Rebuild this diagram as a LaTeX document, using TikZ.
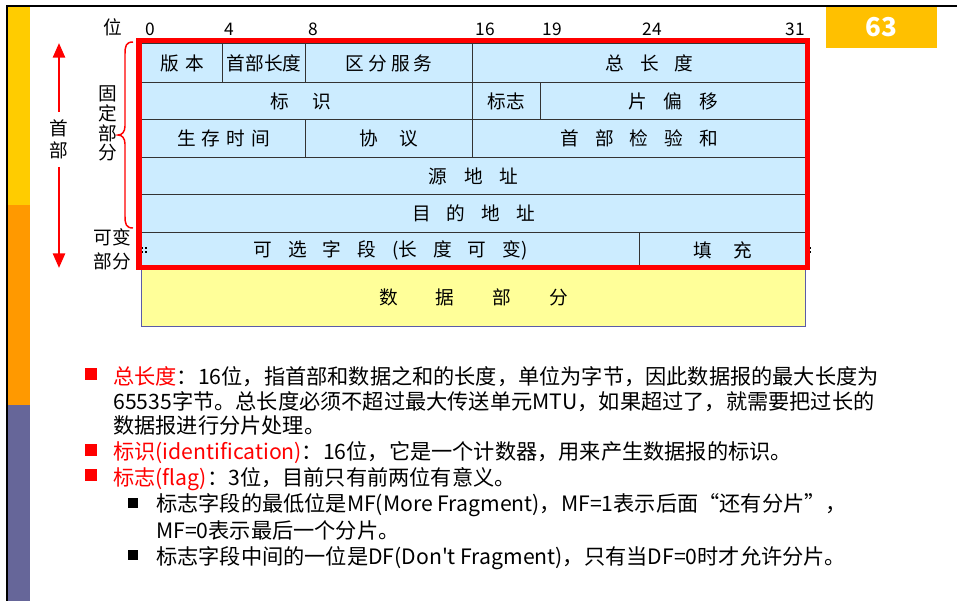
\documentclass[tikz,border=0pt]{standalone}
\usepackage{fontspec}
\setmainfont{Noto Sans CJK SC}
\newfontfamily\aposfont{Noto Sans CJK SC}
\usetikzlibrary{arrows.meta}
\definecolor{cellblue}{HTML}{CCECFF}
\definecolor{cellline}{HTML}{333333}
\definecolor{datayellow}{HTML}{FFFF99}
\definecolor{dataline}{HTML}{5B5BA8}
\definecolor{barY}{HTML}{FFCC00}
\definecolor{barO}{HTML}{FF9900}
\definecolor{barP}{HTML}{666699}
\definecolor{pagebox}{HTML}{FFC000}
\definecolor{pured}{HTML}{FF0000}
\newlength\pxu
\setlength\pxu{0.75pt}
\newcommand\Gap[1]{\hspace{#1\pxu}}
\newcommand\cellfont{\fontsize{14pt}{16pt}\selectfont}
\newcommand\bodyfont{\fontsize{15.9pt}{19pt}\selectfont}
\newcommand\sidefont{\fontsize{14pt}{16pt}\selectfont}
\newcommand\numfont{\fontsize{13pt}{15pt}\selectfont}
\tikzset{
  cell/.style={draw=cellline, fill=cellblue, line width=0.9pt, inner sep=0pt, anchor=north west, font=\cellfont},
  datacell/.style={draw=dataline, fill=datayellow, line width=0.8pt, inner sep=0pt, anchor=north west, font=\cellfont},
  bitlbl/.style={inner sep=0pt, font=\numfont},
  side/.style={inner sep=0pt, font=\sidefont},
  line/.style={inner sep=0pt, anchor=base west, font=\bodyfont},
  redsq/.style={fill=pured, inner sep=0pt, minimum size=12*0.75pt},
  blacksq/.style={fill=black, inner sep=0pt, minimum size=10*0.75pt},
  redarrow/.style={draw=pured, line width=2pt, -{Triangle[length=11pt,width=9pt]}},
  dot/.style={fill=black}
}
\newcommand\ipcell[7][cell]{\node[#1, minimum width={#5*0.75pt}, minimum height={#6*0.75pt}] (#2) at (#3,#4) {#7};}
\begin{document}
\begin{tikzpicture}[x=0.75pt,y=-0.75pt]
\useasboundingbox (0,0) rectangle (957,601);
% left colour bar and frame lines
\fill[barY] (8,7) rectangle (30,205);
\fill[barO] (8,205) rectangle (30,405);
\fill[barP] (8,405) rectangle (30,601);
\draw[line width=1.9pt] (7.2,5) -- (7.2,601);
\draw[line width=1.9pt] (6,6) -- (957,6);
% page number
\node[fill=pagebox, inner sep=0pt, minimum width=111*0.75pt, minimum height=41*0.75pt,
      text=white, font=\fontsize{19.5pt}{22pt}\selectfont\bfseries] (pg) at (881.5,27.5) {63};
% bit labels
\node[side] (wei) at (113,27) {位};
\node[bitlbl] (b0) at (150,29) {0};
\node[bitlbl] (b4) at (229,29) {4};
\node[bitlbl] (b8) at (313,29) {8};
\node[bitlbl] (b16) at (485,29) {16};
\node[bitlbl] (b19) at (552,29) {19};
\node[bitlbl] (b24) at (652,29) {24};
\node[bitlbl] (b31) at (795,29) {31};
% header cells
\ipcell{ver}{141}{43}{81}{39}{版\Gap{6}本}
\ipcell{hlen}{222}{43}{83}{39}{首部长度}
\ipcell{ds}{305}{43}{167}{39}{区\Gap{4}分\Gap{4}服\Gap{4}务}
\ipcell{tlen}{472}{43}{333}{39}{\hspace*{21\pxu}总\Gap{16}长\Gap{16}度}
\ipcell{ident}{141}{82}{331}{37}{标\Gap{23}识\hspace*{13\pxu}}
\ipcell{flag}{472}{82}{68}{37}{标志}
\ipcell{frag}{540}{82}{265}{37}{片\Gap{17}偏\Gap{17}移}
\ipcell{ttl}{141}{119}{164}{38}{生\Gap{6}存\Gap{6}时\Gap{6}间}
\ipcell{proto}{305}{119}{167}{38}{协\Gap{21}议}
\ipcell{csum}{472}{119}{333}{38}{首\Gap{16}部\Gap{16}检\Gap{16}验\Gap{16}和}
\ipcell{src}{141}{157}{664}{37}{源\Gap{17}地\Gap{17}址}
\ipcell{dst}{141}{194}{664}{38}{目\Gap{16}的\Gap{16}地\Gap{16}址}
\ipcell{opt}{141}{232}{498}{35}{可\Gap{16}选\Gap{16}字\Gap{16}段\Gap{16}(长\Gap{16}度\Gap{16}可\Gap{16}变)}
\ipcell{pad}{639}{232}{166}{35}{填\Gap{21}充}
\ipcell[datacell]{data}{141}{267}{664}{59}{数\Gap{38}据\Gap{38}部\Gap{38}分}
% dotted marks at the ends of the options row
\foreach \xx in {140.5,804.5}{
  \fill[dot] (\xx,246.5) rectangle ++(2.4,2.4);
  \fill[dot] (\xx+4.5,246.5) rectangle ++(2.4,2.4);
  \fill[dot] (\xx,251) rectangle ++(2.4,2.4);
  \fill[dot] (\xx+4.5,251) rectangle ++(2.4,2.4);
}
% red frame round the header
\draw[pured, line width=3.8pt] (139,40.5) rectangle (807.5,267.5);
% brace
\draw[pured, line width=1.1pt] (133,42) .. controls (126,42) and (125,46) .. (125,54) -- (125,126)
  .. controls (125,132) and (122,135) .. (118,135) .. controls (122,135) and (125,138) .. (125,144)
  -- (125,216) .. controls (125,224) and (126,228) .. (133,228);
\node[side] (gu) at (107.5,94) {固};
\node[side] (ding) at (107.5,113.5) {定};
\node[side] (bu1) at (107.5,133) {部};
\node[side] (fen1) at (107.5,152.5) {分};
\node[side] (kebian) at (112,237.5) {可变};
\node[side] (bufen) at (112,261) {部分};
% head arrow
\node[side, inner sep=8*0.75pt] (hshou) at (59,128.5) {首};
\node[side, inner sep=8*0.75pt] (hbu) at (59,150) {部};
\coordinate (htop) at (59,43);
\coordinate (hbot) at (59,268);
\draw[redarrow] (hshou) -- (htop);
\draw[redarrow] (hbu) -- (hbot);
% bullets
\node[redsq] (s1) at (91,374) {};
\node[redsq] (s2) at (91,449.5) {};
\node[redsq] (s3) at (91,475) {};
\node[blacksq] (s4) at (133,502.5) {};
\node[blacksq] (s5) at (133,555) {};
\node[line] (l1a) at (113,384) {{\color{pured}总长度}：16位，指首部和数据之和的长度，单位为字节，因此数据报的最大长度为};
\node[line] (l1b) at (113,409) {65535字节。总长度必须不超过最大传送单元MTU，如果超过了，就需要把过长的};
\node[line] (l1c) at (113,433) {数据报进行分片处理。};
\node[line] (l2) at (113,459) {{\color{pured}标识(identification)}：16位，它是一个计数器，用来产生数据报的标识。};
\node[line] (l3) at (113,485) {{\color{pured}标志(flag)}：3位，目前只有前两位有意义。};
\node[line] (l4a) at (156,511) {标志字段的最低位是MF(More Fragment)，MF=1表示后面“还有分片”，};
\node[line] (l4b) at (156,538) {MF=0表示最后一个分片。};
\node[line] (l5) at (156,564) {标志字段中间的一位是DF(Don{\aposfont\char"27}t Fragment)，只有当DF=0时才允许分片。};
\end{tikzpicture}
\end{document}
